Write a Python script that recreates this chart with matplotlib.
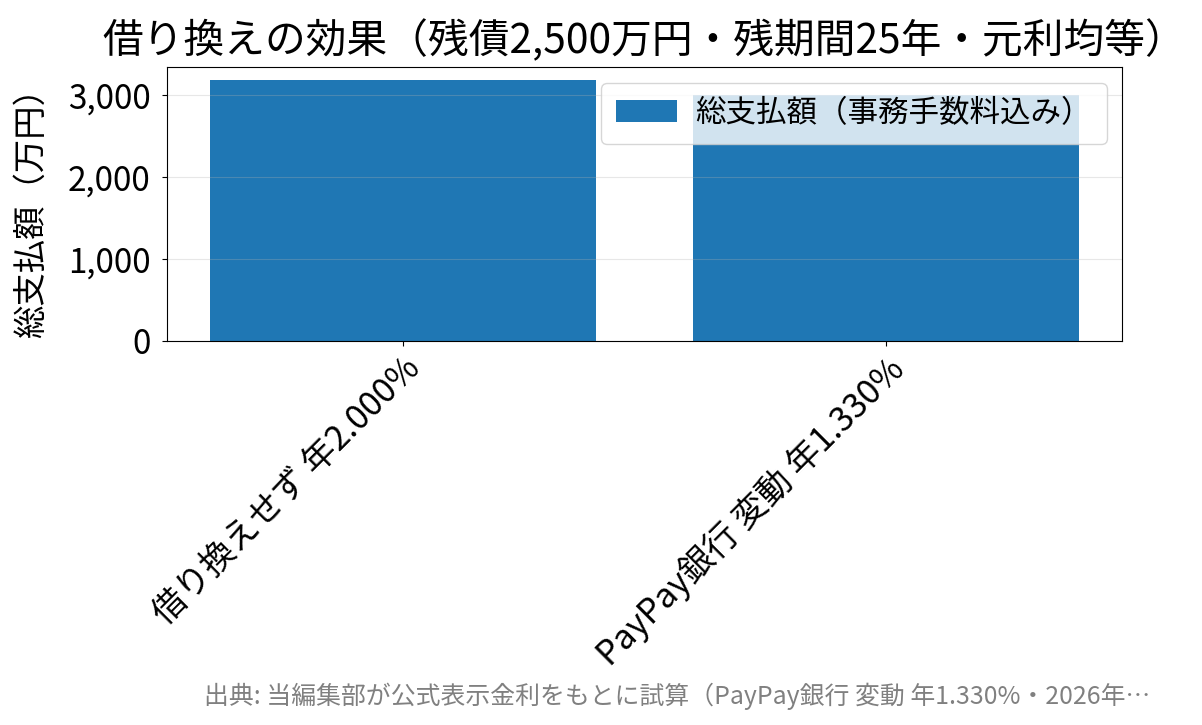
import matplotlib
matplotlib.use("Agg")
import matplotlib.pyplot as plt

plt.rcParams['font.family'] = ['Noto Sans CJK JP', 'DejaVu Sans']

# 総支払額（万円）
labels = ['借り換えせず 年2.000%', 'PayPay銀行 変動 年1.330%']
totals = [3180, 2995]
legend_label = '総支払額（事務手数料込み）'
title = '借り換えの効果（残債2,500万円・残期間25年・元利均等）'
note = '出典: 当編集部が公式表示金利をもとに試算（PayPay銀行 変動 年1.330%・2026年…'

fig = plt.figure(figsize=(12.02, 7.25), dpi=100)
ax = fig.add_axes([0.1387, 0.530, 0.795, 0.3772])

ax.bar(range(len(labels)), totals, width=0.8, color='#1f77b4', label=legend_label)
ax.set_xticks(range(len(labels)))
ax.set_xticklabels(labels, rotation=45, ha='right', va='top',
                   rotation_mode='anchor', fontsize=24.5)
ax.tick_params(axis='y', labelsize=24, pad=8)
ax.yaxis.set_major_formatter(matplotlib.ticker.FuncFormatter(lambda v, p: f'{int(v):,}'))
ax.set_ylabel('総支払額（万円）', fontsize=24)
ax.yaxis.set_label_coords(-0.123, 0.5)
ax.set_title(title, fontsize=29.3, pad=10)
ax.grid(axis='y', alpha=0.3)
ax.legend(loc='upper right', fontsize=22, handlelength=2.0, handletextpad=0.6,
          borderpad=0.5)

fig.text(0.957, 0.039, note, ha='right', va='center', fontsize=17.9, color='gray')

fig.savefig('out.png', dpi=100)
